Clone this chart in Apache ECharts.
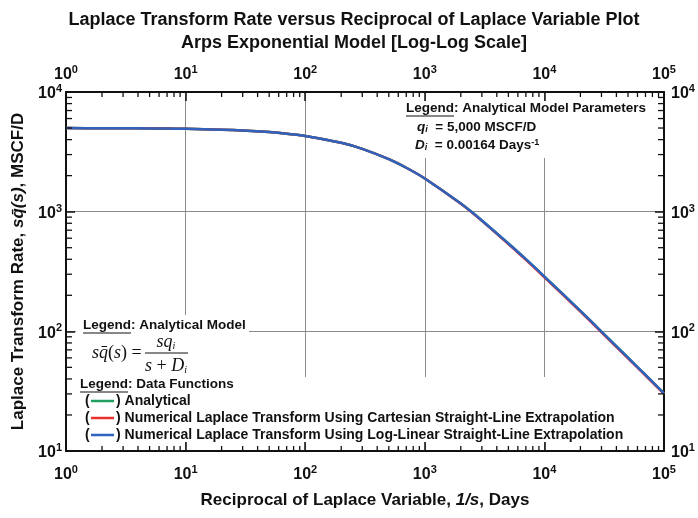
<!DOCTYPE html>
<html><head><meta charset="utf-8">
<script src="https://cdn.jsdelivr.net/npm/echarts@6/dist/echarts.min.js"></script>
<style>html,body{margin:0;padding:0;background:#fff}#c{width:698px;height:518px}</style>
</head><body><div id="c"></div><script>
// ---- data ----
const xDays = [1,2,3,5,7,10,20,30,50,70,100,200,300,500,700,1000,2000,3000,5000,7000,10000,20000,30000,50000,70000,100000];
const analytical = [4992,4984,4976,4959,4943,4919,4841,4766,4621,4485,4296,3762,3351,2747,2328,1894,1168,845,542,401,287,148,99.6,60.2,43.2,30.3];
const cartesian  = [4992,4984,4976,4959,4943,4919,4841,4766,4621,4485,4296,3762,3351,2747,2328,1894,1163,838,535,395,283,146,98.2,59.4,42.7,30.0];
const logLinear  = [4992,4984,4976,4959,4943,4919,4841,4766,4621,4485,4296,3762,3351,2747,2328,1894,1168,845,542,401,287,148,99.6,60.2,43.2,30.3];
const xMajor = [1,10,100,1000,10000,100000];
const yMajor = [10,100,1000,10000];
const minorMult = [2,3,4,5,6,7,8,9];

const FF = '"Liberation Sans", Arial, sans-serif';
const SERIF = '"Liberation Serif", "Times New Roman", serif';
const INK = '#111';
const C_GREEN = '#1fa060', C_RED = '#e8302c', C_BLUE = '#2f62bd';

const X0 = xMajor[0], X1 = xMajor[xMajor.length-1], Y0 = yMajor[0], Y1 = yMajor[yMajor.length-1];
const minorXs = []; xMajor.slice(0,-1).forEach(d => minorMult.forEach(k => minorXs.push(k*d)));
const minorYs = []; yMajor.slice(0,-1).forEach(d => minorMult.forEach(k => minorYs.push(k*d)));

const pow = v => '{b|10}{s|' + Math.round(Math.log10(v)) + '}';
const labRich = {
  b:{fontSize:16,fontWeight:'bold',fontFamily:FF,color:INK,lineHeight:17,padding:[4,0,0,0]},
  s:{fontSize:11,fontWeight:'bold',fontFamily:FF,color:INK,lineHeight:13,verticalAlign:'top'}
};
function axisBase(extra){
  return Object.assign({
    type:'log', logBase:10,
    axisLine:{show:true,onZero:false,lineStyle:{color:INK,width:2}},
    axisTick:{show:true,inside:true,length:9,lineStyle:{color:INK,width:1.5}},
    minorTick:{show:false}, splitLine:{show:false}
  }, extra);
}
const gridStyle = {show:true,lineStyle:{color:'#8a8a8a',width:1}};

const series = [
  {name:'Analytical',type:'line',data:xDays.map((x,i)=>[x,analytical[i]]),showSymbol:false,smooth:0.3,
   lineStyle:{color:C_GREEN,width:2.5},z:2},
  {name:'Cartesian',type:'line',data:xDays.map((x,i)=>[x,cartesian[i]]),showSymbol:false,smooth:0.3,
   lineStyle:{color:C_RED,width:2.5},z:3},
  {name:'LogLinear',type:'line',data:xDays.map((x,i)=>[x,logLinear[i]]),showSymbol:false,smooth:0.3,
   lineStyle:{color:C_BLUE,width:2.5},z:4}
];

function txt(x,y,rich,text,align){
  return {type:'text',x:x,y:y,z:20,style:{text:text,rich:rich,align:align||'left',verticalAlign:'middle',fill:INK,
    font:'bold 14px '+FF}};
}
function mkRich(fs){
  return {
    u:{fontSize:fs,fontWeight:'bold',fontFamily:FF,color:INK},
    n:{fontSize:fs,fontWeight:'bold',fontFamily:FF,color:INK},
    it:{fontSize:fs,fontWeight:'bold',fontStyle:'italic',fontFamily:FF,color:INK},
    sub:{fontSize:9,fontWeight:'bold',fontStyle:'italic',fontFamily:FF,color:INK,verticalAlign:'bottom',lineHeight:12,padding:[6,0,0,0]},
    sup:{fontSize:9,fontWeight:'bold',fontFamily:FF,color:INK,verticalAlign:'top',lineHeight:10}
  };
}
const legRich = mkRich(13.5);
const rowRich = mkRich(14);
const eqRich = {
  i:{fontSize:18,fontStyle:'italic',fontFamily:SERIF,color:INK},
  r:{fontSize:18,fontFamily:SERIF,color:INK},
  sub:{fontSize:10,fontStyle:'italic',fontFamily:SERIF,color:INK,verticalAlign:'bottom',lineHeight:12,padding:[8,0,0,0]}
};
function seg(x1,y1,x2,y2,c,w){return {type:'line',z:20,shape:{x1:x1,y1:y1,x2:x2,y2:y2},style:{stroke:c,lineWidth:w}};}
function uline(x,y,w){return seg(x,y,x+w,y,INK,1.2);}
function legLine(x,y,c){return seg(x,y,x+23,y,c,2.5);}

const graphics = [
  // white legend panels (cover grid lines, stay under curves)
  {type:'rect',z:1,shape:{x:385,y:101,width:270,height:57},style:{fill:'#fff'}},
  {type:'rect',z:1,shape:{x:76,y:315,width:173,height:62},style:{fill:'#fff'}},
  {type:'rect',z:1,shape:{x:76,y:377,width:560,height:65},style:{fill:'#fff'}},
  // top-right legend
  txt(406,108,legRich,'{u|Legend}{n|: Analytical Model Parameters}'),
  uline(406,116,48),
  txt(417,127,legRich,'{it|q}{sub|i}{n|  = 5,000 MSCF/D}'),
  txt(415,145,legRich,'{it|D}{sub|i}{n|  = 0.00164 Days}{sup|-1}'),
  // analytical model legend
  txt(83,325,legRich,'{u|Legend}{n|: Analytical Model}'),
  uline(83,333,48),
  txt(92,353,eqRich,'{i|sq\u0304}{r|(}{i|s}{r|) =}'),
  txt(166,342,eqRich,'{i|sq}{sub|i}','center'),
  seg(145,353,188,353,INK,1),
  txt(166,366,eqRich,'{i|s}{r| + }{i|D}{sub|i}','center'),
  // data functions legend
  txt(80,384,legRich,'{u|Legend}{n|: Data Functions}'),
  uline(80,392,48),
  txt(85,401,rowRich,'{n|(}'), legLine(91,401,C_GREEN), txt(116,401,rowRich,'{n|) Analytical}'),
  txt(85,418,rowRich,'{n|(}'), legLine(91,418,C_RED), txt(116,418,rowRich,'{n|) Numerical Laplace Transform Using Cartesian Straight-Line Extrapolation}'),
  txt(85,435,rowRich,'{n|(}'), legLine(91,435,C_BLUE), txt(116,435,rowRich,'{n|) Numerical Laplace Transform Using Log-Linear Straight-Line Extrapolation}')
];

const chart = echarts.init(document.getElementById('c'), null, {renderer:'canvas'});

// step 1: axes, grid and curves
try {
  chart.setOption({
    animation:false,
    backgroundColor:'#fff',
    grid:{left:66,right:34,top:92,bottom:67,containLabel:false},
    xAxis:[
      axisBase({position:'bottom',min:X0,max:X1,interval:1,
        axisLabel:{formatter:pow,rich:labRich,margin:13},splitLine:gridStyle}),
      axisBase({position:'top',min:X0,max:X1,interval:1,
        axisLabel:{formatter:pow,rich:labRich,margin:11}})
    ],
    yAxis:[
      axisBase({position:'left',min:Y0,max:Y1,interval:1,
        axisLabel:{formatter:pow,rich:labRich,margin:4},splitLine:gridStyle}),
      axisBase({position:'right',min:Y0,max:Y1,interval:1,
        axisLabel:{formatter:pow,rich:labRich,margin:7}})
    ],
    series:series
  });
} catch(e) {}

// minor (2..9) log ticks, positioned through the axes' own scales
const ticks = [];
try {
  const px = v => chart.convertToPixel({xAxisIndex:0}, v);
  const py = v => chart.convertToPixel({yAxisIndex:0}, v);
  const gL = px(X0), gR = px(X1), gB = py(Y0), gT = py(Y1);
  minorXs.forEach(v => { const x = px(v);
    ticks.push(seg(x,gB,x,gB-5,INK,1.3)); ticks.push(seg(x,gT,x,gT+5,INK,1.3)); });
  minorYs.forEach(v => { const y = py(v);
    ticks.push(seg(gL,y,gL+6,y,INK,1.3)); ticks.push(seg(gR,y,gR-6,y,INK,1.3)); });
} catch(e) {}

// step 2: titles, axis names, legends and minor ticks
try {
  chart.setOption({
    graphic: ticks.concat(graphics),
    title:{text:'Laplace Transform Rate versus Reciprocal of Laplace Variable Plot\nArps Exponential Model [Log-Log Scale]',
      left:349, top:4, textAlign:'center',
      textStyle:{fontFamily:FF,fontSize:18,fontWeight:'bold',color:INK,lineHeight:23}},
    xAxis:[
      {name:'Reciprocal of Laplace Variable, {i|1/s}, Days',nameLocation:'middle',nameGap:41,
        nameTextStyle:{fontFamily:FF,fontSize:17,fontWeight:'bold',color:INK,
          rich:{i:{fontFamily:FF,fontSize:17,fontWeight:'bold',fontStyle:'italic',color:INK}}}},
      {}
    ],
    yAxis:[
      {name:'Laplace Transform Rate, {i|sq\u0304(s)}, MSCF/D',nameLocation:'middle',nameGap:35,
        nameTextStyle:{fontFamily:FF,fontSize:17,fontWeight:'bold',color:INK,
          rich:{i:{fontFamily:FF,fontSize:17,fontWeight:'bold',fontStyle:'italic',color:INK}}}},
      {}
    ]
  });
} catch(e) {}
</script></body></html>
